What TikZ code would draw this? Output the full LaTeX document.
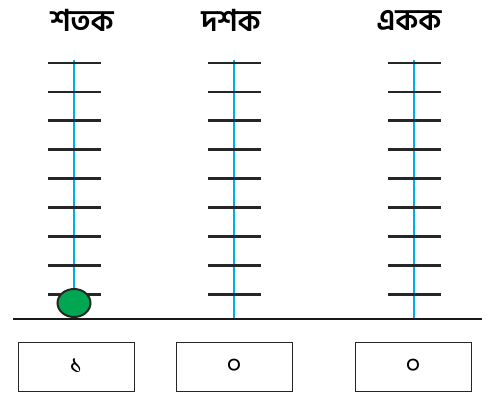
\documentclass[tikz,border=0pt]{standalone}
\usepackage{fontspec}
\newfontfamily\bngfont[Script=Bengali]{Hind Siliguri}
\usepackage{xcolor}
\usepackage{tikz}
\usetikzlibrary{positioning,shapes.geometric}
\definecolor{rodblue}{RGB}{0,174,239}
\definecolor{beadgreen}{RGB}{0,166,81}
\tikzset{
  heading/.style={font=\bngfont\bfseries\fontsize{30}{34}\selectfont, inner sep=0pt},
  rod/.style={draw=rodblue, line width=2.4pt},
  rung/.style={draw=black!85, line width=2.8pt},
  digitbox/.style={rectangle, draw=black!85, line width=1pt, minimum width=116pt,
    minimum height=49pt, font=\bngfont\fontsize{26}{28}\selectfont, inner sep=0pt},
  bead/.style={ellipse, draw=black!85, line width=2pt, fill=beadgreen,
    minimum width=33pt, minimum height=28pt, inner sep=0pt},
  ground/.style={draw=black!90, line width=2.5pt},
}

\begin{document}
\begin{tikzpicture}[x=1pt, y=-1pt]
  \useasboundingbox (0,0) rectangle (486,394);
  % column headings
  \node[heading] (hdrH) at (82,20) {শতক};
  \node[heading] (hdrT) at (231,20) {দশক};
  \node[heading] (hdrU) at (409,20) {একক};
  % rods with rungs
  \foreach \name/\xx in {rodH/74, rodT/234, rodU/414} {
    \coordinate (\name top) at (\xx,60);
    \coordinate (\name bot) at (\xx,319);
    \draw[rod] (\name top) -- (\name bot);
    \foreach \i in {0,...,8}
      \draw[rung] ({\xx-26},{63+28.9*\i}) -- ({\xx+27},{63+28.9*\i});
  }
  \coordinate (gndL) at (13,319);
  \coordinate (gndR) at (482,319);
  \draw[ground] (gndL) -- (gndR);
  \node[bead] (beadH) at (74,303) {};
  % place value boxes
  \node[digitbox] (boxH) at (76,366.5) {১};
  \node[digitbox] (boxT) at (234,366.5) {০};
  \node[digitbox] (boxU) at (413,366.5) {০};
\end{tikzpicture}
\end{document}
